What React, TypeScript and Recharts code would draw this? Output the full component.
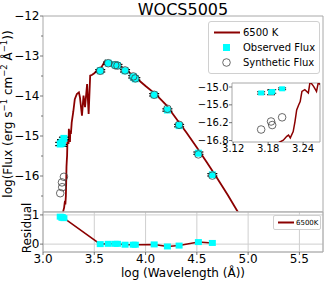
import React from "react";
import {
  ComposedChart,
  Line,
  Scatter,
  XAxis,
  YAxis,
  ErrorBar,
  ReferenceArea,
  CartesianGrid,
  Legend,
} from "recharts";

const FONT = "'DejaVu Sans', sans-serif";
const RED = "#8b0000";
const CYAN = "#00ffff";
const SPINE = "#a8a8a8";

// 6500 K model spectrum, log wavelength vs log flux
const modelLogWave = [
  3.19, 3.198, 3.206, 3.212, 3.215, 3.218, 3.223, 3.226, 3.229, 3.232, 3.235,
  3.238, 3.243, 3.249, 3.252, 3.258, 3.263, 3.266, 3.272, 3.28, 3.295, 3.31,
  3.33, 3.35, 3.36, 3.38, 3.395, 3.41, 3.43, 3.445, 3.46, 3.48, 3.5, 3.54,
  3.57, 3.607, 3.62, 3.64, 3.7, 3.8, 3.9, 4.0, 4.1, 4.2, 4.3, 4.4, 4.5, 4.6,
  4.7, 4.8, 4.9, 5.0,
];
const modelLogFlux = [
  -17.05, -16.87, -16.79, -16.66, -16.62, -16.71, -16.5, -16.17, -15.77,
  -15.62, -15.49, -15.15, -15.09, -15.2, -14.82, -14.98, -15.15, -14.86,
  -14.95, -14.66, -14.4, -14.08, -13.95, -13.91, -14.03, -14.49, -13.99,
  -14.28, -13.7, -14.45, -13.49, -13.47, -13.43, -13.33, -13.28, -13.12,
  -13.17, -13.13, -13.18, -13.33, -13.53, -13.75, -13.96, -14.22, -14.57,
  -14.92, -15.29, -15.67, -16.06, -16.47, -16.9, -17.33,
];

// photometry
const obsLogWave = [
  3.168, 3.185, 3.187, 3.204, 3.558, 3.636, 3.704, 3.726, 3.8, 3.88, 3.9,
  4.084, 4.213, 4.327, 4.515, 4.651,
];
const obsLogFlux = [
  -15.2, -15.18, -15.15, -15.06, -13.37, -13.18, -13.22, -13.24, -13.37,
  -13.52, -13.57, -13.97, -14.35, -14.74, -15.43, -15.97,
];
const obsErr = [
  0.04, 0.08, 0.06, 0.03, 0.03, 0.03, 0.03, 0.03, 0.03, 0.03, 0.03, 0.03,
  0.03, 0.03, 0.03, 0.03,
];
const synLogFlux = [
  -16.43, -16.16, -16.28, -16.02, -13.37, -13.18, -13.23, -13.24, -13.36,
  -13.51, -13.56, -13.97, -14.32, -14.72, -15.46, -15.99,
];
const residual = [
  0.94, 0.9, 0.93, 0.89, 0.0, 0.01, 0.01, 0.01, -0.02, -0.02, -0.02, -0.01,
  -0.08, -0.05, 0.07, 0.04,
];

const xTicks = [3.0, 3.5, 4.0, 4.5, 5.0, 5.5];
const xMinorTicks = [
  3.0, 3.1, 3.2, 3.3, 3.4, 3.5, 3.6, 3.7, 3.8, 3.9, 4.0, 4.1, 4.2, 4.3, 4.4,
  4.5, 4.6, 4.7, 4.8, 4.9, 5.0, 5.1, 5.2, 5.3, 5.4, 5.5, 5.6, 5.7,
];
const yTicks = [-16, -15, -14, -13, -12];
const yMinorTicks = [-16.5, -16, -15.5, -15, -14.5, -14, -13.5, -13, -12.5, -12];
const resTicks = [0, 1];
const insetXTicks = [3.12, 3.18, 3.24];
const insetYTicks = [-16.8, -16.2, -15.6, -15.0];

const model = modelLogWave.map((x, i) => ({ x, y: modelLogFlux[i] }));
const observed = obsLogWave.map((x, i) => ({ x, y: obsLogFlux[i], err: obsErr[i] }));
const synthetic = obsLogWave.map((x, i) => ({ x, y: synLogFlux[i] }));
const resid = obsLogWave.map((x, i) => ({ x, y: residual[i] }));

const X_DOM: [number, number] = [3.0, 5.73];
const Y_DOM: [number, number] = [-16.9, -12];
const R_DOM: [number, number] = [-0.27, 1.1];
const IX_DOM: [number, number] = [3.118, 3.269];
const IY_DOM: [number, number] = [-16.85, -14.865];

const fmt = (d: number) => (v: number) =>
  (v < 0 ? "\u2212" : "") + Math.abs(v).toFixed(d);

const isMajor = (list: number[], v: number) => list.some((t) => Math.abs(t - v) < 1e-6);

const leftTick = (f: (v: number) => string, fs: number, majors: number[]) => (p: any) => {
  const v = p.payload.value;
  const major = isMajor(majors, v);
  return (
    <g>
      <line x1={p.x} x2={p.x - (major ? 3 : 2)} y1={p.y} y2={p.y} stroke="#555" strokeWidth={0.8} />
      {major && (
        <text x={p.x - 3.5} y={p.y} dy="0.36em" textAnchor="end" fontSize={fs} fill="#000" fontFamily={FONT}>
          {f(v)}
        </text>
      )}
    </g>
  );
};

const bottomTick = (f: ((v: number) => string) | null, fs: number, majors: number[]) => (p: any) => {
  const v = p.payload.value;
  const major = isMajor(majors, v);
  return (
    <g>
      <line x1={p.x} x2={p.x} y1={p.y} y2={p.y + (major ? 3 : 2)} stroke="#555" strokeWidth={0.8} />
      {f && major && (
        <text x={p.x} y={p.y + 2} dy="0.76em" textAnchor="middle" fontSize={fs} fill="#000" fontFamily={FONT}>
          {f(v)}
        </text>
      )}
    </g>
  );
};

const square = (w: number, h: number) => (p: any) => (
  <rect x={p.cx - w / 2} y={p.cy - h / 2} width={w} height={h} fill={CYAN} />
);
const ring = (r: number) => (p: any) => (
  <circle cx={p.cx} cy={p.cy} r={r} fill="none" stroke="#444" strokeWidth={0.8} />
);
const nothing = () => <g />;

const MainLegend = () => (
  <div
    style={{
      width: 110,
      border: "1px solid #d0d0d0",
      borderRadius: 3,
      background: "#fff",
      padding: "3px 0 3px 0",
      fontFamily: FONT,
      fontSize: 10,
      lineHeight: "15px",
      color: "#000",
    }}
  >
    <div style={{ display: "flex", alignItems: "center" }}>
      <svg width={34} height={15}>
        <line x1={5} x2={31} y1={7.5} y2={7.5} stroke={RED} strokeWidth={2} />
      </svg>
      <span>6500 K</span>
    </div>
    <div style={{ display: "flex", alignItems: "center" }}>
      <svg width={34} height={15}>
        <rect x={14} y={4} width={7} height={7} fill={CYAN} />
      </svg>
      <span>Observed Flux</span>
    </div>
    <div style={{ display: "flex", alignItems: "center" }}>
      <svg width={34} height={15}>
        <circle cx={17.5} cy={7.5} r={3.8} fill="none" stroke="#444" strokeWidth={0.8} />
      </svg>
      <span>Synthetic Flux</span>
    </div>
  </div>
);

const ResLegend = () => (
  <div
    style={{
      width: 46,
      height: 13,
      border: "1px solid #d0d0d0",
      borderRadius: 2,
      background: "#fff",
      fontFamily: FONT,
      fontSize: 7,
      display: "flex",
      alignItems: "center",
      color: "#000",
    }}
  >
    <svg width={22} height={13}>
      <line x1={4} x2={20} y1={6.5} y2={6.5} stroke={RED} strokeWidth={2} />
    </svg>
    <span>6500K</span>
  </div>
);

const FluxLabel = (p: any) => {
  const vb = p.viewBox;
  const cy = vb.y + vb.height / 2;
  return (
    <text
      transform={`translate(12, ${cy}) rotate(-90)`}
      textAnchor="middle"
      fontSize={12}
      fontFamily={FONT}
      fill="#000"
    >
      log(Flux (erg s<tspan dy={-5} fontSize={8.5}>{"\u22121"}</tspan>
      <tspan dy={5}> cm</tspan>
      <tspan dy={-5} fontSize={8.5}>{"\u22122"}</tspan>
      <tspan dy={5}> Å</tspan>
      <tspan dy={-5} fontSize={8.5}>{"\u22121"}</tspan>
      <tspan dy={5}>))</tspan>
    </text>
  );
};

const ResLabel = (p: any) => {
  const vb = p.viewBox;
  return (
    <text transform={`translate(31, ${vb.y + 16}) rotate(-90)`} textAnchor="middle" fontSize={12} fontFamily={FONT} fill="#000">
      Residual
    </text>
  );
};

const WaveLabel = (p: any) => {
  const vb = p.viewBox;
  return (
    <text x={vb.x + vb.width / 2} y={vb.y + 25} textAnchor="middle" fontSize={12} fontFamily={FONT} fill="#000">
      log (Wavelength (Å))
    </text>
  );
};

export default function App() {
  const insetModel = model.filter((d) => d.x < 3.3);
  const insetObs = observed.filter((d) => d.x < 3.3);
  const insetSyn = synthetic.filter((d) => d.x < 3.3);
  return (
    <div style={{ position: "absolute", left: 0, top: 0, width: 325, height: 281, background: "#fff", fontFamily: FONT }}>
      <svg style={{ position: "absolute", left: 0, top: 0 }} width={325} height={18}>
        <text x={183} y={15} textAnchor="middle" fontSize={16} fontFamily={FONT} fill="#000">
          WOCS5005
        </text>
      </svg>

      {/* main SED panel */}
      <div style={{ position: "absolute", left: 0, top: 0 }}>
        <ComposedChart width={325} height={212} margin={{ top: 16, right: 2, bottom: 0, left: 0 }}>
          <XAxis dataKey="x" type="number" domain={X_DOM} ticks={xMinorTicks} allowDataOverflow height={0}
            axisLine={false} tickLine={false} tickSize={0} tickMargin={0} tick={bottomTick(null, 12, xTicks)} interval={0} />
          <YAxis dataKey="y" type="number" domain={Y_DOM} ticks={yMinorTicks} allowDataOverflow width={43}
            axisLine={false} tickLine={false} tickSize={0} tickMargin={0} tick={leftTick(fmt(0), 12, yTicks)} interval={0}
            label={<FluxLabel />} />
          <ReferenceArea x1={X_DOM[0]} x2={X_DOM[1]} y1={Y_DOM[0]} y2={Y_DOM[1]} fill="none" stroke={SPINE} strokeWidth={1} />
          <Line data={model} dataKey="y" name="6500 K" stroke={RED} strokeWidth={1.8} dot={false} isAnimationActive={false} />
          <Scatter data={observed} name="Observed Flux" shape={square(7, 7)} isAnimationActive={false} />
          <Scatter data={synthetic} name="Synthetic Flux" shape={ring(3.8)} isAnimationActive={false} />
          <Scatter data={observed} legendType="none" shape={nothing} isAnimationActive={false}>
            <ErrorBar dataKey="err" direction="y" width={5} stroke="#000" strokeWidth={1.2} isAnimationActive={false} />
          </Scatter>
          <Legend content={<MainLegend />} layout="vertical" align="center" verticalAlign="middle"
            wrapperStyle={{ left: 208, top: 21, width: 112 }} />
        </ComposedChart>
      </div>

      {/* residual panel */}
      <div style={{ position: "absolute", left: 0, top: 190 }}>
        <ComposedChart width={325} height={91} margin={{ top: 22, right: 2, bottom: 0, left: 0 }}>
          <CartesianGrid stroke="#cfcfcf" strokeWidth={1} />
          <XAxis dataKey="x" type="number" domain={X_DOM} ticks={xTicks} allowDataOverflow height={29}
            axisLine={false} tickLine={false} tickSize={0} tickMargin={0} tick={bottomTick(fmt(1), 12, xTicks)} interval={0}
            label={<WaveLabel />} />
          <YAxis dataKey="y" type="number" domain={R_DOM} ticks={resTicks} allowDataOverflow width={43}
            axisLine={false} tickLine={false} tickSize={0} tickMargin={0} tick={leftTick(fmt(0), 12, resTicks)} interval={0}
            label={<ResLabel />} />
          <ReferenceArea x1={X_DOM[0]} x2={X_DOM[1]} y1={R_DOM[0]} y2={R_DOM[1]} fill="none" stroke={SPINE} strokeWidth={1} />
          <Line data={resid} dataKey="y" name="6500K" stroke={RED} strokeWidth={1.5} dot={false} isAnimationActive={false} />
          <Scatter data={resid} legendType="none" shape={square(7, 6)} isAnimationActive={false} />
          <Legend content={<ResLegend />} layout="vertical" align="center" verticalAlign="middle"
            wrapperStyle={{ left: 273, top: 25, width: 48 }} />
        </ComposedChart>
      </div>

      {/* inset zoom on the UV points */}
      <div style={{ position: "absolute", left: 190, top: 80 }}>
        <ComposedChart width={132} height={78} margin={{ top: 3, right: 2, bottom: 0, left: 0 }}>
          <XAxis dataKey="x" type="number" domain={IX_DOM} ticks={insetXTicks} allowDataOverflow height={16}
            axisLine={false} tickLine={false} tickSize={0} tickMargin={0} tick={bottomTick(fmt(2), 10, insetXTicks)} interval={0} />
          <YAxis dataKey="y" type="number" domain={IY_DOM} ticks={insetYTicks} allowDataOverflow width={42}
            axisLine={false} tickLine={false} tickSize={0} tickMargin={0} tick={leftTick(fmt(1), 10, insetYTicks)} interval={0} />
          <ReferenceArea x1={IX_DOM[0]} x2={IX_DOM[1]} y1={IY_DOM[0]} y2={IY_DOM[1]} fill="#fff" fillOpacity={1} stroke={SPINE} strokeWidth={1} />
          <Line data={insetModel} dataKey="y" stroke={RED} strokeWidth={1.5} dot={false} isAnimationActive={false} />
          <Scatter data={insetObs} shape={square(6, 5)} isAnimationActive={false} />
          <Scatter data={insetSyn} shape={ring(3.8)} isAnimationActive={false} />
          <Scatter data={insetObs} shape={nothing} isAnimationActive={false}>
            <ErrorBar dataKey="err" direction="y" width={4} stroke="#000" strokeWidth={1} isAnimationActive={false} />
          </Scatter>
        </ComposedChart>
      </div>
    </div>
  );
}
